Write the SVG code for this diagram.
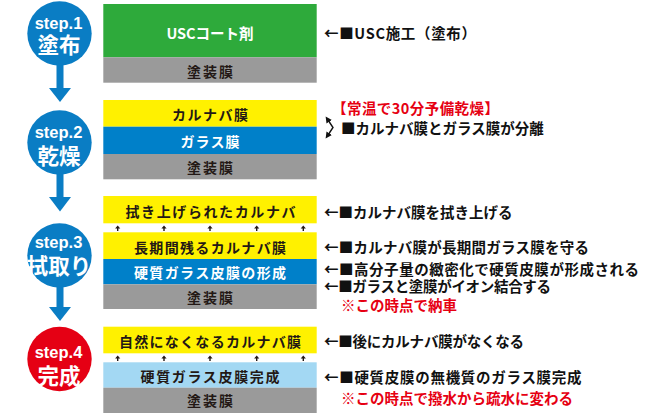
<svg xmlns="http://www.w3.org/2000/svg" width="668" height="415" viewBox="0 0 668 415">
<style>
.jp{font-family:"Noto Sans CJK JP","Noto Sans CJK SC",sans-serif;font-weight:700;dominant-baseline:central}
.lay{font-size:14px;text-anchor:middle}
.dk{fill:#231815}
.wh{fill:#ffffff}
.ann{font-size:14.5px;fill:#111111}
.red{font-size:14.5px;fill:#e60012}
.stp{font-family:"Liberation Sans",Arial,sans-serif;font-weight:700;font-size:16.5px;fill:#fff;text-anchor:middle}
.kj{font-family:"Noto Sans CJK JP","Noto Sans CJK SC",sans-serif;font-weight:700;font-size:21.5px;fill:#fff;text-anchor:middle;dominant-baseline:central}
.cb{fill:#0a7dc4}
.cr{fill:#e50014}
.yel{fill:#fff100}
.gry{fill:#9a9a9a}
.grn{fill:#2eaa3b}
.blu{fill:#0080c9}
.lbl{fill:#a3d8f3}
</style>
<defs>
<path id="up" d="M-2.6 3 L0 0 L2.6 3 L0.7 3 L0.7 5.5 L-0.7 5.5 L-0.7 3 Z" fill="#231815"/>
<marker id="ah" viewBox="0 0 6 6" refX="2" refY="3" markerWidth="6.5" markerHeight="6.5" markerUnits="userSpaceOnUse" orient="auto-start-reverse">
<path d="M0 0 L6 3 L0 6 Z" fill="#111"/>
</marker>
</defs>

<g id="connectors">
<g fill="#0a7dc4">
<rect x="56.5" y="60" width="7" height="29"/>
<path d="M49 88 L71 88 L60 102 Z"/>
<rect x="56.5" y="170" width="7" height="28"/>
<path d="M49 197 L71 197 L60 211.5 Z"/>
<rect x="56.5" y="283" width="7" height="25"/>
<path d="M49 307 L71 307 L60 321 Z"/>
</g>
<use href="#up" x="117.7" y="225.5"/>
<use href="#up" x="164" y="225.5"/>
<use href="#up" x="210" y="225.5"/>
<use href="#up" x="256.7" y="225.5"/>
<use href="#up" x="303.3" y="225.5"/>
<use href="#up" x="117.7" y="355.5"/>
<use href="#up" x="164" y="355.5"/>
<use href="#up" x="210" y="355.5"/>
<use href="#up" x="256.7" y="355.5"/>
<use href="#up" x="303.3" y="355.5"/>
<path d="M328 120 L333 127.5 L328 135" fill="none" stroke="#111" stroke-width="1.4" marker-start="url(#ah)" marker-end="url(#ah)"/>
</g>

<g id="step1">
<circle class="cb" cx="59.5" cy="33.5" r="32.2"/>
<text class="stp" x="58.5" y="29.3">step.1</text>
<text class="kj" x="59" y="43.8">塗布</text>
</g>
<g id="step2">
<circle class="cb" cx="59.5" cy="142.5" r="32.2"/>
<text class="stp" x="58.5" y="138.3">step.2</text>
<text class="kj" x="59" y="154.5">乾燥</text>
</g>
<g id="step3">
<circle class="cb" cx="59.5" cy="255.5" r="32.2"/>
<text class="stp" x="58.5" y="247.5">step.3</text>
<text class="kj" x="59" y="264">拭取り</text>
</g>
<g id="step4">
<circle class="cr" cx="59.5" cy="359" r="32.2"/>
<text class="stp" x="58.5" y="358.3">step.4</text>
<text class="kj" x="59" y="374.5">完成</text>
</g>

<g id="layers1">
<rect class="grn" x="103.3" y="4" width="213.4" height="53.3"/>
<rect class="gry" x="103.3" y="57.3" width="213.4" height="25.4"/>
<text class="jp lay wh" x="210" y="32.5" style="font-size:14.5px">USCコート剤</text>
<text class="jp lay dk" x="210" y="70.5" textLength="46" lengthAdjust="spacing">塗装膜</text>
</g>
<g id="layers2">
<rect class="yel" x="103.3" y="100" width="213.4" height="26.7"/>
<rect class="blu" x="103.3" y="126.7" width="213.4" height="27.3"/>
<rect class="gry" x="103.3" y="154" width="213.4" height="25.3"/>
<text class="jp lay dk" x="210" y="114" textLength="76" lengthAdjust="spacing">カルナバ膜</text>
<text class="jp lay wh" x="210" y="141" textLength="59" lengthAdjust="spacing">ガラス膜</text>
<text class="jp lay dk" x="210" y="167" textLength="46" lengthAdjust="spacing">塗装膜</text>
</g>
<g id="layers3">
<rect class="yel" x="103.3" y="196" width="213.4" height="27.3"/>
<rect class="yel" x="103.3" y="232.3" width="213.4" height="26.7"/>
<rect class="blu" x="103.3" y="259" width="213.4" height="25.3"/>
<rect class="gry" x="103.3" y="284.3" width="213.4" height="24.7"/>
<text class="jp lay dk" x="210.5" y="211" textLength="170" lengthAdjust="spacing">拭き上げられたカルナバ</text>
<text class="jp lay dk" x="210" y="246.5" textLength="152" lengthAdjust="spacing">長期間残るカルナバ膜</text>
<text class="jp lay wh" x="210" y="272" textLength="152" lengthAdjust="spacing">硬質ガラス皮膜の形成</text>
<text class="jp lay dk" x="210" y="296.7" textLength="46" lengthAdjust="spacing">塗装膜</text>
</g>
<g id="layers4">
<rect class="yel" x="103.3" y="326.7" width="213.4" height="26.6"/>
<rect class="lbl" x="103.3" y="362.3" width="213.4" height="25.4"/>
<rect class="gry" x="103.3" y="387.7" width="213.4" height="25.3"/>
<text class="jp lay dk" x="210" y="340.7" textLength="182" lengthAdjust="spacing">自然になくなるカルナバ膜</text>
<text class="jp lay dk" x="210" y="375.5" textLength="139" lengthAdjust="spacing">硬質ガラス皮膜完成</text>
<text class="jp lay dk" x="210" y="400" textLength="46" lengthAdjust="spacing">塗装膜</text>
</g>

<g id="notes">
<text class="jp ann" x="324" y="32.5" textLength="152" lengthAdjust="spacing">←■USC施工（塗布）</text>
<text class="jp red" x="332" y="107.5" textLength="167" lengthAdjust="spacing">【常温で30分予備乾燥】</text>
<text class="jp ann" x="341" y="127.5">■カルナバ膜とガラス膜が分離</text>
<text class="jp ann" x="324" y="211.3">←■カルナバ膜を拭き上げる</text>
<text class="jp ann" x="324" y="246" textLength="265" lengthAdjust="spacing">←■カルナバ膜が長期間ガラス膜を守る</text>
<text class="jp ann" x="324" y="268.3" textLength="315" lengthAdjust="spacing">←■高分子量の緻密化で硬質皮膜が形成される</text>
<text class="jp ann" x="324" y="285.3" textLength="227" lengthAdjust="spacing">←■ガラスと塗膜がイオン結合する</text>
<text class="jp red" x="341" y="304">※この時点で納車</text>
<text class="jp ann" x="324" y="340.5" textLength="200" lengthAdjust="spacing">←■後にカルナバ膜がなくなる</text>
<text class="jp ann" x="324" y="376" textLength="257.5" lengthAdjust="spacing">←■硬質皮膜の無機質のガラス膜完成</text>
<text class="jp red" x="341" y="397.7">※この時点で撥水から疏水に変わる</text>
</g>
</svg>
